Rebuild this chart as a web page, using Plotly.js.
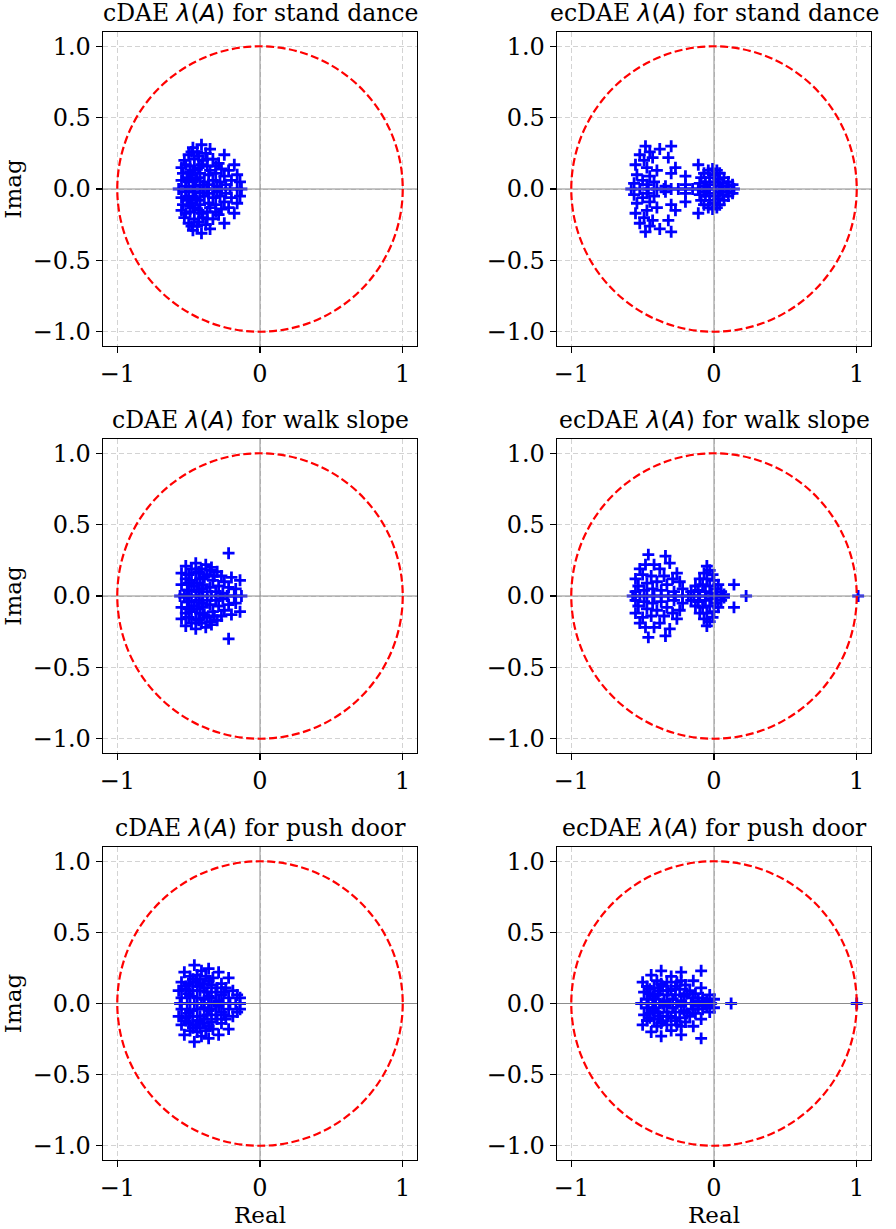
<!DOCTYPE html>
<html>
<head>
<meta charset="utf-8">
<script src="https://cdn.plot.ly/plotly-3.0.1.min.js"></script>
<style>html,body{margin:0;padding:0;background:#fff;}#chart{width:896px;height:1229px;}</style>
</head>
<body>
<div id="chart"></div>
<script>
// ---------- data: eigenvalues (real part, imaginary part) ----------
const panelTitles = [
  "cDAE", "ecDAE", "cDAE", "ecDAE", "cDAE", "ecDAE"
];
const panelTasks = [
  "stand dance", "stand dance", "walk slope", "walk slope", "push door", "push door"
];
const xTickVals = [-1, 0, 1];
const xTickText = ["\u22121", "0", "1"];
const yTickVals = [-1, -0.5, 0, 0.5, 1];
const yTickText = ["\u22121.0", "\u22120.5", "0.0", "0.5", "1.0"];

// cDAE, stand dance
const sdC_re = [
  -0.41,-0.47,-0.35,-0.44,-0.38,-0.50,-0.25,-0.53,-0.46,-0.40,-0.33,-0.29,-0.18,-0.55,-0.49,-0.43,-0.37,-0.27,-0.22,-0.54,
  -0.48,-0.42,-0.36,-0.31,-0.25,-0.16,-0.55,-0.50,-0.45,-0.39,-0.33,-0.28,-0.20,-0.14,-0.52,-0.46,-0.40,-0.30,-0.24,
  -0.52,-0.47,-0.44,-0.41,-0.35,-0.51,-0.43,-0.37,-0.48,-0.31,-0.36,-0.49,
  -0.41,-0.47,-0.35,-0.44,-0.38,-0.50,-0.25,-0.53,-0.46,-0.40,-0.33,-0.29,-0.18,-0.55,-0.49,-0.43,-0.37,-0.27,-0.22,-0.54,
  -0.48,-0.42,-0.36,-0.31,-0.25,-0.16,-0.55,-0.50,-0.45,-0.39,-0.33,-0.28,-0.20,-0.14,-0.52,-0.46,-0.40,-0.30,-0.24,
  -0.52,-0.47,-0.44,-0.41,-0.35,-0.51,-0.43,-0.37,-0.48,-0.31,-0.36,-0.49,
  -0.57,-0.52,-0.47,-0.42,-0.37,-0.32,-0.27,-0.21,-0.16,-0.13
];
const sdC_im = [
  0.31,0.29,0.28,0.26,0.25,0.24,0.24,0.20,0.21,0.20,0.21,0.18,0.17,0.15,0.16,0.15,0.16,0.14,0.13,0.11,
  0.10,0.11,0.10,0.11,0.09,0.10,0.06,0.05,0.06,0.05,0.06,0.05,0.06,0.05,0.02,0.02,0.025,0.02,0.03,
  0.17,0.13,0.08,0.17,0.13,0.08,0.23,0.21,0.26,0.16,0.03,0.12,
  -0.31,-0.29,-0.28,-0.26,-0.25,-0.24,-0.24,-0.20,-0.21,-0.20,-0.21,-0.18,-0.17,-0.15,-0.16,-0.15,-0.16,-0.14,-0.13,-0.11,
  -0.10,-0.11,-0.10,-0.11,-0.09,-0.10,-0.06,-0.05,-0.06,-0.05,-0.06,-0.05,-0.06,-0.05,-0.02,-0.02,-0.025,-0.02,-0.03,
  -0.17,-0.13,-0.08,-0.17,-0.13,-0.08,-0.23,-0.21,-0.26,-0.16,-0.03,-0.12,
  0,0,0,0,0,0,0,0,0,0
];

// ecDAE, stand dance
const sdE_re = [
  -0.48,-0.38,-0.30,-0.52,-0.45,-0.32,-0.43,-0.49,-0.55,-0.27,-0.40,-0.47,-0.30,-0.20,-0.54,-0.45,-0.50,-0.42,-0.56,-0.34,-0.20,-0.11,-0.47,
  -0.10,-0.09,-0.07,-0.04,-0.01,0.02,0.04,0.07,0.10,0.13,-0.06,-0.03,0.00,0.03,0.06,-0.03,0.01,0.04,-0.07,0.09,
  -0.48,-0.38,-0.30,-0.52,-0.45,-0.32,-0.43,-0.49,-0.55,-0.27,-0.40,-0.47,-0.30,-0.20,-0.54,-0.45,-0.50,-0.42,-0.56,-0.34,-0.20,-0.11,-0.47,
  -0.10,-0.09,-0.07,-0.04,-0.01,0.02,0.04,0.07,0.10,0.13,-0.06,-0.03,0.00,0.03,0.06,-0.03,0.01,0.04,-0.07,0.09,
  -0.58,-0.52,-0.46,-0.40,-0.35,-0.30,-0.25,-0.20,-0.15,-0.11,-0.05,0.00,0.05,0.10,0.14
];
const sdE_im = [
  0.30,0.28,0.30,0.24,0.26,0.22,0.22,0.20,0.17,0.15,0.13,0.15,0.11,0.09,0.10,0.09,0.06,0.05,0.04,0.02,0.03,0.17,0.03,
  0.04,0.08,0.11,0.13,0.14,0.13,0.11,0.08,0.05,0.03,0.05,0.08,0.10,0.07,0.04,0.03,0.05,0.02,0.02,0.02,
  -0.30,-0.28,-0.30,-0.24,-0.26,-0.22,-0.22,-0.20,-0.17,-0.15,-0.13,-0.15,-0.11,-0.09,-0.10,-0.09,-0.06,-0.05,-0.04,-0.02,-0.03,-0.17,-0.03,
  -0.04,-0.08,-0.11,-0.13,-0.14,-0.13,-0.11,-0.08,-0.05,-0.03,-0.05,-0.08,-0.10,-0.07,-0.04,-0.03,-0.05,-0.02,-0.02,-0.02,
  0,0,0,0,0,0,0,0,0,0,0,0,0,0,0
];

// cDAE, walk slope
const wsC_re = [
  -0.22,-0.45,-0.38,-0.52,-0.48,-0.41,-0.34,-0.30,-0.55,-0.45,-0.37,-0.27,-0.20,-0.14,-0.52,-0.48,
  -0.42,-0.33,-0.25,-0.55,-0.46,-0.40,-0.35,-0.29,-0.22,-0.17,-0.51,-0.43,-0.37,-0.31,-0.26,-0.53,
  -0.50,-0.43,-0.39,-0.50,-0.44,-0.32,-0.41,-0.48,-0.35,
  -0.22,-0.45,-0.38,-0.52,-0.48,-0.41,-0.34,-0.30,-0.55,-0.45,-0.37,-0.27,-0.20,-0.14,-0.52,-0.48,
  -0.42,-0.33,-0.25,-0.55,-0.46,-0.40,-0.35,-0.29,-0.22,-0.17,-0.51,-0.43,-0.37,-0.31,-0.26,-0.53,
  -0.50,-0.43,-0.39,-0.50,-0.44,-0.32,-0.41,-0.48,-0.35,
  -0.56,-0.50,-0.45,-0.40,-0.34,-0.28,-0.23,-0.18,-0.13
];
const wsC_im = [
  0.30,0.23,0.22,0.21,0.19,0.19,0.20,0.17,0.16,0.16,0.15,0.14,0.13,0.11,0.12,0.11,
  0.12,0.11,0.10,0.08,0.07,0.08,0.06,0.07,0.06,0.05,0.04,0.03,0.03,0.03,0.02,0.01,
  0.15,0.17,0.13,0.09,0.09,0.14,0.05,0.04,0.18,
  -0.30,-0.23,-0.22,-0.21,-0.19,-0.19,-0.20,-0.17,-0.16,-0.16,-0.15,-0.14,-0.13,-0.11,-0.12,-0.11,
  -0.12,-0.11,-0.10,-0.08,-0.07,-0.08,-0.06,-0.07,-0.06,-0.05,-0.04,-0.03,-0.03,-0.03,-0.02,-0.01,
  -0.15,-0.17,-0.13,-0.09,-0.09,-0.14,-0.05,-0.04,-0.18,
  0,0,0,0,0,0,0,0,0
];

// ecDAE, walk slope
const wsE_re = [
  -0.46,-0.34,-0.48,-0.42,-0.31,-0.52,-0.38,-0.55,-0.26,-0.24,-0.50,-0.44,-0.35,-0.29,-0.53,-0.47,-0.40,-0.33,-0.22,-0.55,-0.49,-0.43,-0.37,-0.28,
  -0.05,-0.03,-0.07,-0.01,-0.10,-0.05,0.00,0.03,-0.13,-0.08,-0.03,0.01,0.05,-0.16,-0.11,-0.06,-0.02,0.07,0.14,
  -0.46,-0.34,-0.48,-0.42,-0.31,-0.52,-0.38,-0.55,-0.26,-0.24,-0.50,-0.44,-0.35,-0.29,-0.53,-0.47,-0.40,-0.33,-0.22,-0.55,-0.49,-0.43,-0.37,-0.28,
  -0.05,-0.03,-0.07,-0.01,-0.10,-0.05,0.00,0.03,-0.13,-0.08,-0.03,0.01,0.05,-0.16,-0.11,-0.06,-0.02,0.07,0.14,
  -0.57,-0.52,-0.47,-0.42,-0.37,-0.32,-0.27,-0.22,-0.18,-0.14,-0.10,-0.06,-0.02,0.02,0.06,0.225,1.01
];
const wsE_im = [
  0.29,0.28,0.22,0.22,0.23,0.19,0.19,0.12,0.16,0.10,0.15,0.14,0.14,0.12,0.07,0.09,0.10,0.08,0.05,0.03,0.04,0.05,0.04,0.03,
  0.21,0.18,0.16,0.15,0.12,0.12,0.11,0.08,0.07,0.08,0.07,0.05,0.03,0.03,0.04,0.03,0.02,0.01,0.08,
  -0.29,-0.28,-0.22,-0.22,-0.23,-0.19,-0.19,-0.12,-0.16,-0.10,-0.15,-0.14,-0.14,-0.12,-0.07,-0.09,-0.10,-0.08,-0.05,-0.03,-0.04,-0.05,-0.04,-0.03,
  -0.21,-0.18,-0.16,-0.15,-0.12,-0.12,-0.11,-0.08,-0.07,-0.08,-0.07,-0.05,-0.03,-0.03,-0.04,-0.03,-0.02,-0.01,-0.08,
  0,0,0,0,0,0,0,0,0,0,0,0,0,0,0,0,0
];

// cDAE, push door
const pdC_re = [
  -0.46,-0.36,-0.53,-0.29,-0.41,-0.22,-0.49,-0.44,-0.38,-0.33,-0.27,-0.55,-0.50,-0.45,-0.40,-0.34,-0.24,
  -0.19,-0.57,-0.52,-0.47,-0.42,-0.37,-0.31,-0.27,-0.16,-0.14,-0.55,-0.49,-0.44,-0.39,-0.34,-0.29,-0.22,
  -0.47,-0.42,-0.36,-0.52,-0.44,-0.39,-0.30,-0.50,-0.36,-0.25,
  -0.46,-0.36,-0.53,-0.29,-0.41,-0.22,-0.49,-0.44,-0.38,-0.33,-0.27,-0.55,-0.50,-0.45,-0.40,-0.34,-0.24,
  -0.19,-0.57,-0.52,-0.47,-0.42,-0.37,-0.31,-0.27,-0.16,-0.14,-0.55,-0.49,-0.44,-0.39,-0.34,-0.29,-0.22,
  -0.47,-0.42,-0.36,-0.52,-0.44,-0.39,-0.30,-0.50,-0.36,-0.25,
  -0.56,-0.51,-0.46,-0.41,-0.36,-0.31,-0.26,-0.21,-0.17,-0.14
];
const pdC_im = [
  0.27,0.245,0.22,0.22,0.23,0.18,0.19,0.20,0.19,0.18,0.14,0.15,0.14,0.15,0.14,0.13,0.11,
  0.09,0.09,0.10,0.09,0.09,0.08,0.08,0.06,0.06,0.04,0.04,0.05,0.04,0.03,0.04,0.02,0.04,
  0.17,0.17,0.16,0.12,0.12,0.11,0.11,0.07,0.05,0.08,
  -0.27,-0.245,-0.22,-0.22,-0.23,-0.18,-0.19,-0.20,-0.19,-0.18,-0.14,-0.15,-0.14,-0.15,-0.14,-0.13,-0.11,
  -0.09,-0.09,-0.10,-0.09,-0.09,-0.08,-0.08,-0.06,-0.06,-0.04,-0.04,-0.05,-0.04,-0.03,-0.04,-0.02,-0.04,
  -0.17,-0.17,-0.16,-0.12,-0.12,-0.11,-0.11,-0.07,-0.05,-0.08,
  0,0,0,0,0,0,0,0,0,0
];

// ecDAE, push door
const pdE_re = [
  -0.37,-0.23,-0.09,-0.44,-0.50,-0.145,-0.09,-0.03,0.00,-0.30,-0.40,-0.33,-0.26,-0.20,-0.47,-0.42,-0.36,-0.30,
  -0.24,-0.17,-0.13,-0.49,-0.45,-0.39,-0.33,-0.27,-0.21,-0.15,-0.08,-0.05,-0.47,-0.41,-0.35,-0.29,-0.23,-0.11,
  -0.45,-0.38,-0.32,-0.27,-0.19,-0.43,-0.37,-0.23,
  -0.37,-0.23,-0.09,-0.44,-0.50,-0.145,-0.09,-0.03,0.00,-0.30,-0.40,-0.33,-0.26,-0.20,-0.47,-0.42,-0.36,-0.30,
  -0.24,-0.17,-0.13,-0.49,-0.45,-0.39,-0.33,-0.27,-0.21,-0.15,-0.08,-0.05,-0.47,-0.41,-0.35,-0.29,-0.23,-0.11,
  -0.45,-0.38,-0.32,-0.27,-0.19,-0.43,-0.37,-0.23,
  -0.51,-0.46,-0.41,-0.36,-0.31,-0.26,-0.21,-0.16,-0.11,-0.06,-0.02,0.12,1.00
];
const pdE_im = [
  0.23,0.22,0.23,0.20,0.15,0.16,0.11,0.06,0.03,0.19,0.16,0.15,0.15,0.13,0.12,0.11,0.12,0.10,
  0.10,0.09,0.07,0.08,0.07,0.07,0.06,0.06,0.05,0.04,0.04,0.02,0.03,0.03,0.02,0.03,0.02,0.02,
  0.10,0.09,0.09,0.12,0.07,0.05,0.14,0.16,
  -0.23,-0.22,-0.245,-0.20,-0.15,-0.16,-0.11,-0.06,-0.03,-0.19,-0.16,-0.15,-0.15,-0.13,-0.12,-0.11,-0.12,-0.10,
  -0.10,-0.09,-0.07,-0.08,-0.07,-0.07,-0.06,-0.06,-0.05,-0.04,-0.04,-0.02,-0.03,-0.03,-0.02,-0.03,-0.02,-0.02,
  -0.10,-0.09,-0.09,-0.12,-0.07,-0.05,-0.14,-0.16,
  0,0,0,0,0,0,0,0,0,0,0,0,0
];

const panelRe = [sdC_re, sdE_re, wsC_re, wsE_re, pdC_re, pdE_re];
const panelIm = [sdC_im, sdE_im, wsC_im, wsE_im, pdC_im, pdE_im];

// ---------- layout geometry (pixels) ----------
const W = 896, H = 1229;
const colX = [[103, 417], [557, 871]];
const rowY = [[32, 346], [439, 753], [847, 1160]];
const FONT = "DejaVu Serif";
const FS_TICK = 24, FS_TITLE = 23.5, FS_AX = 23;

const traces = [];
const layout = {
  width: W, height: H,
  margin: {l: 0, r: 0, t: 0, b: 0},
  paper_bgcolor: "#fff", plot_bgcolor: "#fff",
  font: {family: FONT, size: FS_TICK, color: "#000"},
  showlegend: false,
  shapes: [], annotations: []
};

for (let i = 0; i < 6; i++) {
  const r = Math.floor(i / 2), c = i % 2;
  const n = i + 1;
  const xa = "x" + (n === 1 ? "" : n), ya = "y" + (n === 1 ? "" : n);
  const xk = "xaxis" + (n === 1 ? "" : n), yk = "yaxis" + (n === 1 ? "" : n);
  const xd = [colX[c][0] / W, colX[c][1] / W];
  const yd = [1 - rowY[r][1] / H, 1 - rowY[r][0] / H];
  const common = {
    range: [-1.1, 1.1], showline: true, mirror: true, linecolor: "#000", linewidth: 1.3,
    ticks: "outside", ticklen: 6, tickwidth: 1.2, tickcolor: "#000",
    showgrid: true, gridcolor: "#d3d3d3", gridwidth: 1, griddash: "5px,3px",
    zeroline: false, automargin: false, fixedrange: true,
    tickfont: {family: FONT, size: FS_TICK, color: "#000"}
  };
  layout[xk] = Object.assign({}, common, {
    domain: xd, anchor: ya, tickmode: "array", tickvals: xTickVals, ticktext: xTickText,
    title: r === 2 ? {text: "Real", font: {family: FONT, size: FS_AX}, standoff: 4} : {text: ""}
  });
  layout[yk] = Object.assign({}, common, {
    domain: yd, anchor: xa, tickmode: "array", tickvals: yTickVals, ticktext: yTickText,
    title: c === 0 ? {text: "Imag", font: {family: FONT, size: FS_AX}, standoff: 4} : {text: ""}
  });

  traces.push({
    type: "scatter", mode: "markers", xaxis: xa, yaxis: ya,
    x: panelRe[i], y: panelIm[i], hoverinfo: "skip",
    marker: {symbol: "cross-thin", size: 8.5, color: "#0000ff", line: {color: "#0000ff", width: 2.8}}
  });

  // axis lines through the origin (drawn above markers)
  layout.shapes.push({type: "line", xref: xa + " domain", yref: ya, x0: 0, x1: 1, y0: 0, y1: 0,
    line: {color: "#8c8c8c", width: 1}, layer: "above"});
  layout.shapes.push({type: "line", xref: xa, yref: ya + " domain", x0: 0, x1: 0, y0: 0, y1: 1,
    line: {color: "#8c8c8c", width: 1}, layer: "above"});
  // unit circle
  layout.shapes.push({type: "circle", xref: xa, yref: ya, x0: -1, x1: 1, y0: -1, y1: 1,
    line: {color: "red", width: 2.2, dash: "8px,3.5px"}, layer: "above"});

  layout.annotations.push({
    xref: "paper", yref: "paper", x: (xd[0] + xd[1]) / 2, y: yd[1],
    xanchor: "center", yanchor: "bottom", yshift: 3, showarrow: false,
    font: {family: FONT, size: FS_TITLE, color: "#000"},
    text: panelTitles[i] + ' <span style="font-family:DejaVu Sans"><i>\u03bb</i>(<i>A</i>)</span> for ' + panelTasks[i]
  });
}

Plotly.newPlot("chart", traces, layout, {staticPlot: true, displayModeBar: false});
</script>
</body>
</html>
